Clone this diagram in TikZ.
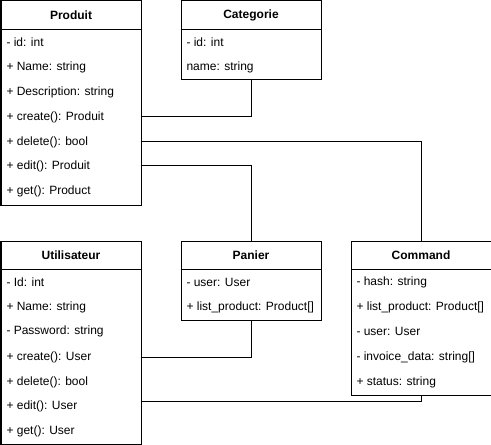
\documentclass[tikz,border=0pt]{standalone}
\usepackage{fontspec}
\setmainfont{Liberation Sans}
\begin{document}
\begin{tikzpicture}[x=1bp,y=-1bp, line width=1bp,
  umlbox/.style={draw=black, fill=white, rectangle, inner sep=0pt, anchor=north west},
  hdr/.style={font=\fontsize{12bp}{14bp}\selectfont\bfseries, inner sep=0pt},
  row/.style={anchor=west, font=\fontsize{12bp}{14bp}\selectfont, inner sep=0pt},
  conn/.style={draw=black, line width=1bp}]
\useasboundingbox (0,0) rectangle (491,445);

% ---------- Produit ----------
\node[umlbox, minimum width=140bp, minimum height=204bp] (produit) at (0.5,0.5) {};
\draw ([yshift=-29bp]produit.north west) -- ([yshift=-29bp]produit.north east);
\node[hdr] (produit-t) at ([yshift=-14.5bp]produit.north) {Produit};
\node[row] (p1) at (6,42.5) {- id: int};
\node[row] (p2) at (6,67.5) {+ Name: string};
\node[row] (p3) at (6,92.5) {+ Description: string};
\node[row] (p4) at (6,117.5) {+ create(): Produit};
\node[row] (p5) at (6,142) {+ delete(): bool};
\node[row] (p6) at (6,166.5) {+ edit(): Produit};
\node[row] (p7) at (6,191.5) {+ get(): Product};

% ---------- Categorie ----------
\node[umlbox, minimum width=140bp, minimum height=79bp] (categorie) at (180.5,0.5) {};
\draw ([yshift=-29bp]categorie.north west) -- ([yshift=-29bp]categorie.north east);
\node[hdr] (categorie-t) at ([yshift=-14.5bp]categorie.north) {Categorie};
\node[row] (c1) at (186,42.5) {- id: int};
\node[row] (c2) at (186,67.5) {name: string};

% ---------- Utilisateur ----------
\node[umlbox, minimum width=140bp, minimum height=203.5bp] (utilisateur) at (0.5,240.5) {};
\draw ([yshift=-29bp]utilisateur.north west) -- ([yshift=-29bp]utilisateur.north east);
\node[hdr] (utilisateur-t) at ([yshift=-14.5bp]utilisateur.north) {Utilisateur};
\node[row] (u1) at (6,282.5) {- Id: int};
\node[row] (u2) at (6,307.5) {+ Name: string};
\node[row] (u3) at (6,331.5) {- Password: string};
\node[row] (u4) at (6,357) {+ create(): User};
\node[row] (u5) at (6,382) {+ delete(): bool};
\node[row] (u6) at (6,406.5) {+ edit(): User};
\node[row] (u7) at (6,431.5) {+ get(): User};

% ---------- Panier ----------
\node[umlbox, minimum width=140bp, minimum height=79bp] (panier) at (180.5,240.5) {};
\draw ([yshift=-29bp]panier.north west) -- ([yshift=-29bp]panier.north east);
\node[hdr] (panier-t) at ([yshift=-14.5bp]panier.north) {Panier};
\node[row] (pa1) at (186,282.5) {- user: User};
\node[row] (pa2) at (186,307.5) {+ list\_product: Product[]};

% ---------- Command ----------
\node[umlbox, minimum width=140bp, minimum height=154bp] (command) at (350.5,240.5) {};
\draw ([yshift=-29bp]command.north west) -- ([yshift=-29bp]command.north east);
\node[hdr] (command-t) at ([yshift=-14.5bp]command.north) {Command};
\node[row] (co1) at (356,282.5) {- hash: string};
\node[row] (co2) at (356,307.5) {+ list\_product: Product[]};
\node[row] (co3) at (356,331.5) {- user: User};
\node[row] (co4) at (356,357) {- invoice\_data: string[]};
\node[row] (co5) at (356,382) {+ status: string};

% ---------- Connectors ----------
\coordinate (pcreate) at (140.5,117);
\coordinate (pdelete) at (140.5,141.5);
\coordinate (pedit) at (140.5,166);
\coordinate (ucreate) at (140.5,357);
\coordinate (uedit) at (140.5,401);
\draw[conn] (pcreate) -| (categorie.south);
\draw[conn] (pdelete) -| (command.north);
\draw[conn] (pedit) -| (panier.north);
\draw[conn] (ucreate) -| (panier.south);
\draw[conn] (uedit) -| (command.south);
\end{tikzpicture}
\end{document}
